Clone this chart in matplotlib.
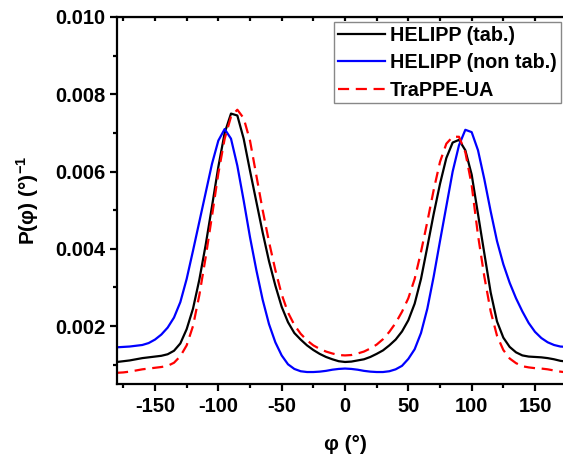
import numpy as np
import matplotlib
matplotlib.use('Agg')
import matplotlib.pyplot as plt

plt.rcParams['font.family'] = ['Liberation Sans', 'DejaVu Sans']
plt.rcParams['font.weight'] = 'bold'
plt.rcParams['axes.unicode_minus'] = False
plt.rcParams['mathtext.fontset'] = 'custom'
plt.rcParams['mathtext.rm'] = 'Liberation Sans:bold'
plt.rcParams['mathtext.bf'] = 'Liberation Sans:bold'

# dihedral angle grid (deg)
phi = np.arange(-180, 181, 5)

# HELIPP (tab.)
p_tab = [0.00107, 0.00109, 0.00111, 0.00114, 0.00117, 0.00119, 0.00121, 0.00123,
         0.00127, 0.00136, 0.00155, 0.00192, 0.00245, 0.00320, 0.00410, 0.00510,
         0.00612, 0.00700, 0.00750, 0.00745, 0.00685, 0.00602, 0.00522, 0.00442,
         0.00368, 0.00305, 0.00250, 0.00210, 0.00182, 0.00165, 0.00150, 0.00138,
         0.00128, 0.00120, 0.00114, 0.00109, 0.00107, 0.00108, 0.00111, 0.00114,
         0.00120, 0.00128, 0.00137, 0.00150, 0.00165, 0.00186, 0.00215, 0.00258,
         0.00322, 0.00405, 0.00490, 0.00568, 0.00635, 0.00675, 0.00682, 0.00655,
         0.00592, 0.00490, 0.00388, 0.00287, 0.00212, 0.00170, 0.00146, 0.00132,
         0.00124, 0.00121, 0.00120, 0.00119, 0.00117, 0.00114, 0.00110, 0.00108,
         0.00107]

# HELIPP (non tab.)
p_nontab = [0.00145, 0.00146, 0.00147, 0.00149, 0.00151, 0.00156, 0.00165, 0.00178,
            0.00196, 0.00222, 0.00262, 0.00322, 0.00395, 0.00470, 0.00545, 0.00620,
            0.00680, 0.00710, 0.00685, 0.00615, 0.00525, 0.00430, 0.00345, 0.00268,
            0.00205, 0.00158, 0.00124, 0.00101, 0.00089, 0.00083, 0.00081, 0.00081,
            0.00082, 0.00084, 0.00087, 0.00089, 0.00090, 0.00089, 0.00087, 0.00084,
            0.00082, 0.00081, 0.00081, 0.00083, 0.00088, 0.00097, 0.00115, 0.00140,
            0.00182, 0.00245, 0.00328, 0.00420, 0.00510, 0.00600, 0.00668, 0.00708,
            0.00702, 0.00655, 0.00580, 0.00497, 0.00420, 0.00360, 0.00312, 0.00272,
            0.00238, 0.00208, 0.00185, 0.00169, 0.00158, 0.00151, 0.00147, 0.00146,
            0.00145]

# TraPPE-UA
p_trappe = [0.00079, 0.00080, 0.00082, 0.00085, 0.00088, 0.00090, 0.00092, 0.00094,
            0.00097, 0.00105, 0.00122, 0.00150, 0.00200, 0.00280, 0.00378, 0.00485,
            0.00595, 0.00685, 0.00742, 0.00760, 0.00738, 0.00680, 0.00590, 0.00500,
            0.00418, 0.00345, 0.00282, 0.00235, 0.00203, 0.00180, 0.00163, 0.00150,
            0.00141, 0.00134, 0.00129, 0.00125, 0.00124, 0.00125, 0.00129, 0.00134,
            0.00142, 0.00152, 0.00166, 0.00185, 0.00208, 0.00237, 0.00272, 0.00322,
            0.00392, 0.00470, 0.00552, 0.00625, 0.00672, 0.00690, 0.00690, 0.00650,
            0.00565, 0.00435, 0.00328, 0.00238, 0.00175, 0.00138, 0.00116, 0.00104,
            0.00096, 0.00093, 0.00091, 0.00090, 0.00088, 0.00085, 0.00082, 0.00080,
            0.00079]

fig = plt.figure(figsize=(5.63, 4.59), dpi=100)
ax = fig.add_axes([117/563, 1 - 384/459, 456/563, 367/459])

ax.plot(phi, p_tab, color='black', lw=1.6, label='HELIPP (tab.)')
ax.plot(phi, p_nontab, color='#0000ff', lw=1.6, label='HELIPP (non tab.)')
ax.plot(phi, p_trappe, color='#ff0000', lw=1.6, ls=(0, (5, 3)), label='TraPPE-UA')

ax.set_xlim(-180, 180)
ax.set_ylim(0.0005, 0.010)
ax.set_xticks([-150, -100, -50, 0, 50, 100, 150])
ax.set_xticks(np.arange(-175, 180, 50), minor=True)
ax.set_yticks([0.002, 0.004, 0.006, 0.008, 0.010])
ax.set_yticks([0.001, 0.003, 0.005, 0.007, 0.009], minor=True)
ax.set_yticklabels(['0.002', '0.004', '0.006', '0.008', '0.010'])

for s in ax.spines.values():
    s.set_linewidth(1.6)
ax.tick_params(which='major', direction='out', length=5, width=1.6, labelsize=14.5)
ax.tick_params(which='minor', direction='out', length=3, width=1.6)
ax.tick_params(axis='x', pad=4)

top = ax.secondary_xaxis('top')
top.set_xticks(np.arange(-175, 180, 25))
top.tick_params(direction='in', length=3, width=1.6, labeltop=False)
top.set_xticklabels([])

ax.set_xlabel('φ (°)', fontsize=15, fontweight='bold', labelpad=14)
ax.set_ylabel(r'P(φ) (°)$^{-1}$', fontsize=15, fontweight='bold', labelpad=10)

leg = ax.legend(loc='upper left', bbox_to_anchor=(334/563, 1 - 22/459),
                bbox_transform=fig.transFigure, borderaxespad=0, borderpad=0.2,
                handlelength=2.4, handletextpad=0.25, labelspacing=0.42,
                fancybox=False, framealpha=1, prop={'size': 14.2, 'weight': 'bold'})
leg.get_frame().set_edgecolor('#888888')
leg.get_frame().set_linewidth(1.0)

fig.savefig('out.png', dpi=100)
